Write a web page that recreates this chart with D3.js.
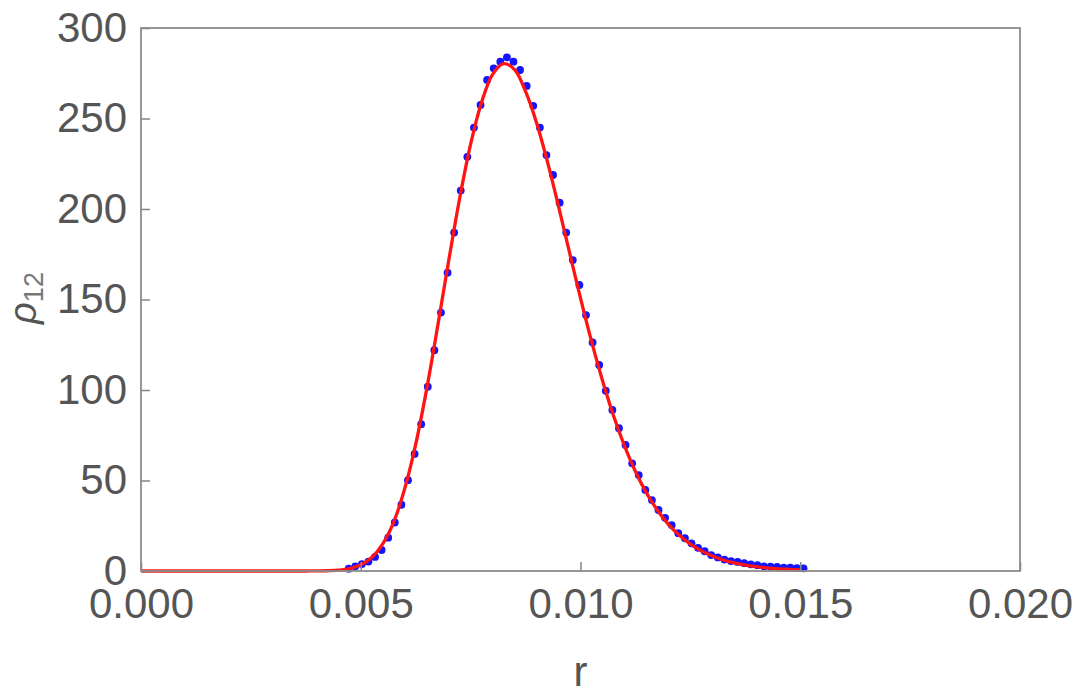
<!DOCTYPE html>
<html>
<head>
<meta charset="utf-8">
<script src="https://cdn.jsdelivr.net/npm/d3@7"></script>
<style>
  body { margin: 0; background: #ffffff; }
  svg { display: block; }
</style>
</head>
<body>
<svg id="chart" width="1082" height="696"></svg>
<script>
// ---- data ----
const xTicks = [0, 0.005, 0.010, 0.015, 0.020];
const xTickLabels = ["0.000", "0.005", "0.010", "0.015", "0.020"];
const yTicks = [0, 50, 100, 150, 200, 250, 300];
const yTickLabels = ["0", "50", "100", "150", "200", "250", "300"];

// sampled points (blue dots)
const sampleR = [
  0.004725, 0.004875, 0.005025, 0.005175, 0.005325, 0.005475, 0.005625, 0.005775, 0.005925, 0.006075,
  0.006225, 0.006375, 0.006525, 0.006675, 0.006825, 0.006975, 0.007125, 0.007275, 0.007425, 0.007575,
  0.007725, 0.007875, 0.008025, 0.008175, 0.008325, 0.008475, 0.008625, 0.008775, 0.008925, 0.009075,
  0.009225, 0.009375, 0.009525, 0.009675, 0.009825, 0.009975, 0.010125, 0.010275, 0.010425, 0.010575,
  0.010725, 0.010875, 0.011025, 0.011175, 0.011325, 0.011475, 0.011625, 0.011775, 0.011925, 0.012075,
  0.012225, 0.012375, 0.012525, 0.012675, 0.012825, 0.012975, 0.013125, 0.013275, 0.013425, 0.013575,
  0.013725, 0.013875, 0.014025, 0.014175, 0.014325, 0.014475, 0.014625, 0.014775, 0.014925, 0.015075
];
const sampleRho = [
  1.3, 2.6, 3.8, 5.2, 7.8, 11.6, 18.4, 26.8, 36.6, 50.2,
  64.7, 81.1, 101.8, 122.0, 142.8, 164.8, 187.0, 210.2, 228.8, 245.0,
  257.5, 271.3, 277.7, 281.4, 283.8, 281.4, 276.8, 268.0, 257.0, 245.0,
  229.8, 218.8, 203.5, 187.0, 171.8, 158.0, 141.4, 126.3, 113.8, 99.6,
  89.0, 78.9, 69.6, 59.5, 53.0, 44.8, 39.2, 33.7, 29.4, 25.4,
  20.9, 18.1, 15.3, 12.8, 10.9, 8.8, 7.5, 6.3, 5.5, 5.0,
  4.3, 3.7, 3.2, 2.6, 2.4, 2.3, 1.9, 1.8, 1.6, 1.5
];

// fitted curve (red line)
const fitR = [
  0, 0.0035, 0.00375, 0.004, 0.00425, 0.0045, 0.00475, 0.005, 0.00525, 0.0055,
  0.00575, 0.006, 0.00625, 0.0065, 0.00675, 0.007, 0.00725, 0.0075, 0.00775, 0.008,
  0.00825, 0.0085, 0.00875, 0.009, 0.00925, 0.0095, 0.00975, 0.010, 0.01025, 0.0105,
  0.01075, 0.011, 0.01125, 0.0115, 0.01175, 0.012, 0.01225, 0.0125, 0.01275, 0.013,
  0.01325, 0.0135, 0.01375, 0.014, 0.01425, 0.0145, 0.01475, 0.015
];
const fitRho = [
  0, 0, 0.01, 0.03, 0.13, 0.45, 1.34, 3.42, 7.5, 15.0,
  27.0, 45.5, 70.0, 100.5, 135.2, 171.3, 205.8, 235.8, 259.0, 274.4,
  280.3, 277.0, 265.0, 247.7, 225.9, 201.5, 176.0, 150.8, 127.0, 105.3,
  85.9, 69.2, 55.0, 43.2, 33.6, 25.8, 19.7, 14.8, 11.1, 8.3,
  6.1, 4.5, 3.3, 2.4, 1.7, 1.2, 0.9, 0.6
];

// ---- layout ----
const plot = { left: 141, right: 1020, top: 28, bottom: 571 };
const textColor = "#555555";
const frameColor = "#8c8c8c";
const fontFamily = "'Liberation Sans', Arial, Helvetica, sans-serif";

const svg = d3.select("#chart");

const x = d3.scaleLinear().domain([0, 0.02]).range([plot.left, plot.right]);
const y = d3.scaleLinear().domain([0, 300]).range([plot.bottom, plot.top]);

const dots = sampleR.map((r, i) => ({ r, v: sampleRho[i] }));
const fit = fitR.map((r, i) => ({ r, v: fitRho[i] }));

svg.append("g")
  .selectAll("circle")
  .data(dots)
  .join("circle")
  .attr("cx", d => x(d.r))
  .attr("cy", d => y(d.v))
  .attr("r", 3.9)
  .attr("fill", "#1414ff");

const line = d3.line()
  .x(d => x(d.r))
  .y(d => y(d.v))
  .curve(d3.curveCatmullRom.alpha(0.5));

svg.append("path")
  .datum(fit)
  .attr("d", line)
  .attr("fill", "none")
  .attr("stroke", "#ff1414")
  .attr("stroke-width", 3.3)
  .attr("stroke-linejoin", "round");

// axes
const xAxis = d3.axisBottom(x)
  .tickValues(xTicks)
  .tickFormat((d, i) => xTickLabels[i])
  .tickSizeInner(-9)
  .tickSizeOuter(0)
  .tickPadding(17);

const yAxis = d3.axisLeft(y)
  .tickValues(yTicks)
  .tickFormat((d, i) => yTickLabels[i])
  .tickSizeInner(-9)
  .tickSizeOuter(0)
  .tickPadding(14);

const gx = svg.append("g")
  .attr("transform", `translate(0,${plot.bottom})`)
  .call(xAxis);
const gy = svg.append("g")
  .attr("transform", `translate(${plot.left},0)`)
  .call(yAxis);

[gx, gy].forEach(g => {
  g.select(".domain").remove();
  g.selectAll(".tick line").attr("stroke", frameColor).attr("stroke-width", 1.6);
  g.selectAll(".tick text")
    .attr("fill", textColor)
    .style("font-family", fontFamily)
    .style("font-size", "42px");
});

// frame
svg.append("rect")
  .attr("x", plot.left)
  .attr("y", plot.top)
  .attr("width", plot.right - plot.left)
  .attr("height", plot.bottom - plot.top)
  .attr("fill", "none")
  .attr("stroke", frameColor)
  .attr("stroke-width", 1.8);

// axis titles
svg.append("text")
  .attr("x", (plot.left + plot.right) / 2)
  .attr("y", 686)
  .attr("text-anchor", "middle")
  .attr("fill", textColor)
  .style("font-family", fontFamily)
  .style("font-size", "42px")
  .text("r");

const yl = svg.append("text")
  .attr("transform", `translate(36,298) rotate(-90)`)
  .attr("text-anchor", "middle")
  .attr("fill", textColor)
  .style("font-family", fontFamily)
  .style("font-size", "38px");
yl.append("tspan").style("font-style", "italic").text("ρ");
yl.append("tspan").attr("dy", "0.25em").attr("fill", "#777777").style("font-size", "27px").text("12");
</script>
</body>
</html>
